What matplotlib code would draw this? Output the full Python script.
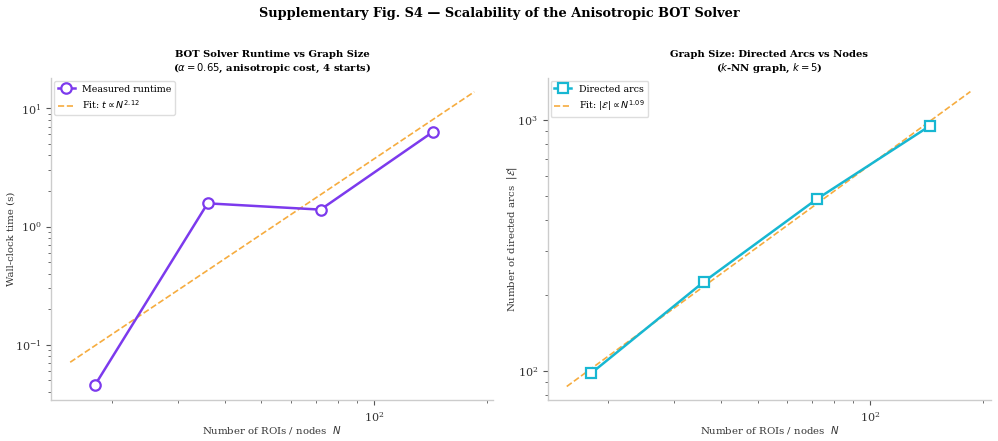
import numpy as np
import matplotlib
matplotlib.use("Agg")
import matplotlib.pyplot as plt

# ---- data ----
N = np.array([18, 36, 72, 144])
runtime_s = np.array([0.0454, 1.57, 1.39, 6.35])
arcs = np.array([98, 227, 484, 946])

runtime_label = "Measured runtime"
arcs_label = "Directed arcs"

plt.rcParams['font.family'] = ['DejaVu Serif']
plt.rcParams['mathtext.fontset'] = 'dejavusans'

purple = '#7c3aed'
cyan = '#17b7d2'
orange = '#f5a32a'
spine_c = '#cccccc'

fig = plt.figure(figsize=(9.98, 4.41), dpi=100)
ax1 = fig.add_axes([51/998, 1 - 400.3/441, (493 - 51)/998, (400.3 - 78)/441])
ax2 = fig.add_axes([547.7/998, 1 - 400.3/441, (991 - 547.7)/998, (400.3 - 78)/441])

def style(ax):
    for s in ['top', 'right']:
        ax.spines[s].set_visible(False)
    for s in ['left', 'bottom']:
        ax.spines[s].set_color(spine_c)
        ax.spines[s].set_linewidth(1.0)
    ax.tick_params(which='both', colors='#555555', labelcolor='#333333', labelsize=8)
    ax.tick_params(which='major', length=3.5)
    ax.tick_params(which='minor', length=2)

xfit = np.logspace(np.log10(N.min() * 0.86), np.log10(N.max() * 1.285), 100)

lab_kw = dict(fontsize=7.3, color='#333333')
title_kw = dict(fontsize=7.2, fontweight='bold', pad=5, linespacing=1.3)
leg_kw = dict(loc='upper left', fontsize=6.8, frameon=True, edgecolor='#dddddd',
              framealpha=1, borderaxespad=0.3, handlelength=1.8)

# left panel
p1 = np.polyfit(np.log10(N), np.log10(runtime_s), 1)
ax1.plot(N, runtime_s, '-o', color=purple, lw=1.8, ms=7.5, mfc='white',
         mec=purple, mew=1.6, label=runtime_label, zorder=3)
ax1.plot(xfit, 10 ** np.polyval(p1, np.log10(xfit)), '--', color=orange,
         lw=1.2, alpha=0.9, label=r"Fit: $t \propto N^{%.2f}$" % p1[0], zorder=2)
ax1.set_xscale('log')
ax1.set_yscale('log')
ax1.set_xlim(13.76, 207.6)
ax1.set_ylim(0.034, 18)
style(ax1)
ax1.set_xlabel(r"Number of ROIs / nodes  $N$", labelpad=0, **lab_kw)
ax1.set_ylabel("Wall-clock time (s)", labelpad=-1, **lab_kw)
ax1.set_title("BOT Solver Runtime vs Graph Size\n" + r"($\alpha = 0.65$, anisotropic cost, 4 starts)",
              **title_kw)
ax1.legend(**leg_kw)

# right panel
p2 = np.polyfit(np.log10(N), np.log10(arcs), 1)
ax2.plot(N, arcs, '-s', color=cyan, lw=1.8, ms=7.5, mfc='white',
         mec=cyan, mew=1.6, label=arcs_label, zorder=3)
ax2.plot(xfit, 10 ** np.polyval(p2, np.log10(xfit)), '--', color=orange,
         lw=1.2, alpha=0.9, label=r"Fit: $|\mathcal{E}| \propto N^{%.2f}$" % p2[0], zorder=2)
ax2.set_xscale('log')
ax2.set_yscale('log')
ax2.set_xlim(13.77, 210)
ax2.set_ylim(76.4, 1470)
style(ax2)
ax2.set_xlabel(r"Number of ROIs / nodes  $N$", labelpad=0, **lab_kw)
ax2.set_ylabel(r"Number of directed arcs  $|\mathcal{E}|$", labelpad=-1, **lab_kw)
ax2.set_title("Graph Size: Directed Arcs vs Nodes\n" + r"($k$-NN graph, $k = 5$)",
              **title_kw)
ax2.legend(**leg_kw)

fig.suptitle("Supplementary Fig. S4 — Scalability of the Anisotropic BOT Solver",
             fontsize=9.3, fontweight='bold', y=0.985)

fig.savefig("out.png", dpi=100)
